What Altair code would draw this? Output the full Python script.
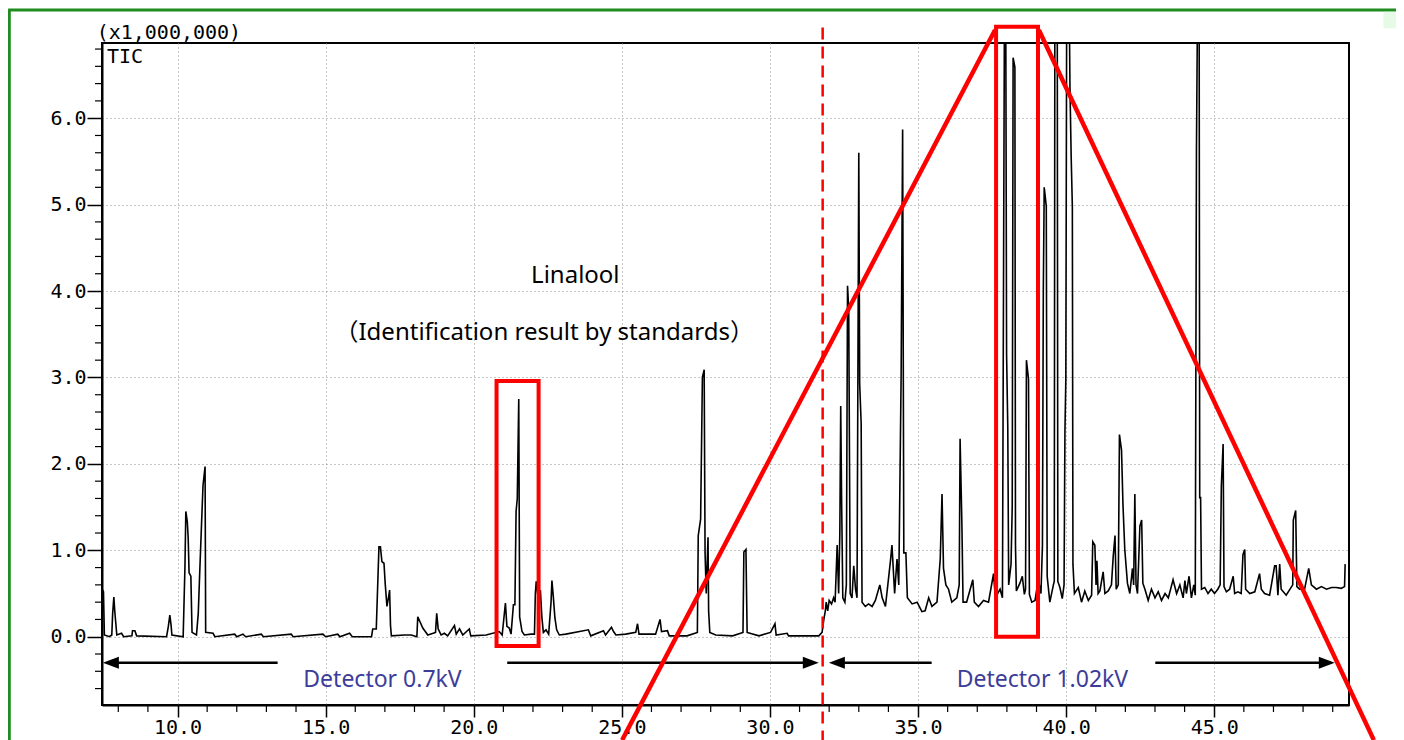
import altair as alt
import pandas as pd

# ---------------- TIC trace (retention time [min], intensity [x1,000,000]) ----------------
rt = [7.45, 7.50, 7.53, 7.70, 7.78, 7.81, 7.85, 7.88, 7.90, 7.95, 8.11, 8.18, 8.46, 8.48, 8.56, 8.62,
      9.63, 9.69, 9.74, 9.78, 9.81, 10.19, 10.25, 10.28, 10.33, 10.36, 10.39, 10.45, 10.49, 10.64,
      10.70, 10.75, 10.81, 10.86, 10.93, 10.95, 11.20, 11.26, 11.93, 12.00, 12.21, 12.30, 12.83, 12.90,
      13.84, 13.90, 14.91, 15.00, 15.41, 15.48, 15.81, 15.90, 16.55, 16.59, 16.71, 16.80, 16.85, 16.90,
      16.97, 17.01, 17.07, 17.12, 17.16, 17.19, 17.22, 17.66, 17.89, 18.08, 18.11, 18.19, 18.28, 18.45,
      18.71, 18.75, 18.80, 18.90, 19.01, 19.12, 19.35, 19.41, 19.52, 19.63, 19.85, 19.90, 20.42, 20.86,
      20.96, 21.07, 21.12, 21.20, 21.26, 21.34, 21.39, 21.43, 21.47, 21.52, 21.55, 21.63, 21.71, 21.93,
      22.05, 22.08, 22.11, 22.19, 22.25, 22.30, 22.35, 22.44, 22.53, 22.61, 22.64, 22.69, 22.74, 22.80,
      22.89, 23.11, 23.87, 23.95, 24.38, 24.45, 24.65, 24.72, 24.80, 25.13, 25.47, 25.53, 25.58, 25.81,
      26.14, 26.29, 26.34, 26.54, 26.60, 27.20, 27.55, 27.58, 27.66, 27.72, 27.78, 27.81, 27.85, 27.91,
      27.93, 27.97, 28.17, 28.74, 29.09, 29.12, 29.19, 29.23, 29.63, 30.02, 30.17, 30.21, 30.58, 30.63,
      31.65, 31.76, 31.82, 31.87, 31.90, 31.95, 32.00, 32.08, 32.15, 32.20, 32.27, 32.32, 32.36, 32.39,
      32.42, 32.46, 32.53, 32.58, 32.62, 32.66, 32.71, 32.77, 32.83, 32.89, 32.94, 33.00, 33.03, 33.08,
      33.11, 33.22, 33.33, 33.45, 33.56, 33.71, 33.79, 33.90, 34.07, 34.12, 34.21, 34.29, 34.35, 34.43,
      34.48, 34.52, 34.59, 34.64, 34.80, 34.97, 35.13, 35.24, 35.36, 35.47, 35.64, 35.75, 35.81, 35.86,
      35.94, 36.03, 36.14, 36.31, 36.39, 36.42, 36.48, 36.52, 36.64, 36.85, 36.90, 37.04, 37.21, 37.38,
      37.55, 37.61, 37.77, 37.85, 37.92, 37.96, 37.99, 38.03, 38.06, 38.14, 38.18, 38.21, 38.27, 38.29,
      38.32, 38.44, 38.52, 38.59, 38.63, 38.66, 38.73, 38.76, 38.84, 38.95, 39.06, 39.15, 39.20, 39.23,
      39.26, 39.33, 39.36, 39.45, 39.57, 39.60, 39.62, 39.70, 39.72, 39.79, 39.87, 39.93, 39.96, 39.99,
      40.02, 40.10, 40.13, 40.17, 40.21, 40.23, 40.28, 40.41, 40.52, 40.63, 40.75, 40.86, 40.90, 40.97,
      41.01, 41.04, 41.08, 41.14, 41.25, 41.31, 41.42, 41.53, 41.59, 41.65, 41.69, 41.76, 41.80, 41.87,
      41.92, 41.98, 42.07, 42.15, 42.24, 42.28, 42.32, 42.36, 42.41, 42.49, 42.55, 42.59, 42.66, 42.77,
      42.88, 43.00, 43.11, 43.22, 43.34, 43.45, 43.61, 43.73, 43.84, 43.95, 44.01, 44.06, 44.15, 44.23,
      44.31, 44.36, 44.40, 44.44, 44.49, 44.51, 44.54, 44.57, 44.68, 44.79, 44.90, 45.01, 45.12, 45.20,
      45.24, 45.30, 45.33, 45.41, 45.52, 45.64, 45.69, 45.80, 45.91, 45.97, 46.03, 46.06, 46.20, 46.37,
      46.53, 46.59, 46.70, 46.87, 47.04, 47.09, 47.15, 47.21, 47.26, 47.43, 47.65, 47.67, 47.75, 47.79,
      47.88, 48.05, 48.19, 48.28, 48.45, 48.62, 48.79, 48.96, 49.12, 49.29, 49.40, 49.42]
tic = [0.55, 0.52, 0.02, 0.00, 0.02, 0.27, 0.46, 0.30, 0.22, 0.02, 0.04, 0.00, 0.01, 0.07, 0.07, 0.01,
       0.00, 0.12, 0.25, 0.14, 0.02, 0.00, 0.80, 1.45, 1.33, 1.14, 0.74, 0.70, 0.05, 0.02,
       0.27, 0.75, 1.30, 1.75, 1.97, 0.05, 0.04, 0.00, 0.03, 0.00, 0.03, 0.00, 0.03, 0.00,
       0.03, 0.00, 0.03, 0.00, 0.03, 0.00, 0.04, 0.00, 0.00, 0.09, 0.09, 1.04, 1.04, 0.87,
       0.85, 0.62, 0.35, 0.45, 0.54, 0.13, 0.01, 0.02, 0.02, 0.00, 0.23, 0.17, 0.10, 0.02,
       0.05, 0.27, 0.09, 0.02, 0.04, 0.01, 0.13, 0.03, 0.09, 0.02, 0.09, 0.01, 0.02, 0.06,
       0.02, 0.39, 0.12, 0.10, 0.03, 0.37, 0.37, 1.45, 1.60, 2.75, 0.23, 0.06, 0.02, 0.03,
       0.03, 0.50, 0.64, 0.40, 0.54, 0.23, 0.05, 0.08, 0.03, 0.40, 0.65, 0.45, 0.22, 0.08,
       0.02, 0.03, 0.08, 0.01, 0.07, 0.02, 0.11, 0.06, 0.02, 0.03, 0.05, 0.15, 0.03, 0.03,
       0.03, 0.20, 0.06, 0.07, 0.01, 0.01, 0.05, 1.17, 1.36, 3.00, 3.09, 0.97, 0.50, 1.15,
       0.30, 0.05, 0.02, 0.01, 0.05, 0.98, 1.01, 0.05, 0.01, 0.05, 0.15, 0.02, 0.04, 0.01,
       0.01, 0.05, 0.20, 0.30, 0.40, 0.30, 0.42, 0.38, 0.45, 0.40, 1.06, 0.50, 1.20, 2.67,
       1.59, 0.45, 0.40, 0.60, 4.06, 3.79, 0.50, 0.45, 0.82, 0.55, 0.45, 5.60, 2.93, 2.47,
       0.40, 0.35, 0.38, 0.35, 0.42, 0.60, 0.45, 0.35, 0.88, 1.06, 0.50, 0.90, 0.60, 3.04,
       5.87, 0.97, 0.97, 0.45, 0.38, 0.40, 0.29, 0.30, 0.45, 0.35, 0.40, 0.90, 1.65, 0.79,
       0.60, 0.55, 0.40, 0.45, 0.60, 2.29, 1.32, 0.40, 0.40, 0.66, 0.40, 0.35, 0.42, 0.40,
       0.73, 0.45, 0.55, 0.45, 7.50, 7.50, 3.26, 2.43, 0.60, 0.84, 1.50, 6.70, 6.59, 1.06,
       0.53, 0.62, 0.70, 0.49, 0.55, 3.20, 2.98, 0.49, 0.40, 0.42, 0.66, 0.50, 1.06, 4.00,
       5.20, 4.98, 0.70, 0.40, 0.60, 0.64, 7.50, 7.50, 0.64, 0.57, 0.44, 0.60, 2.38, 2.98,
       7.50, 7.50, 6.35, 5.56, 4.98, 0.84, 0.50, 0.57, 0.40, 0.53, 0.42, 0.48, 1.10, 1.06,
       0.60, 0.88, 0.50, 0.53, 0.75, 0.50, 0.53, 0.60, 0.93, 1.17, 0.55, 0.60, 2.34, 2.16,
       1.52, 1.01, 0.62, 0.50, 0.79, 0.60, 1.65, 0.60, 0.50, 1.28, 1.35, 0.62, 0.55, 0.42,
       0.55, 0.45, 0.52, 0.42, 0.50, 0.45, 0.66, 0.50, 0.60, 0.45, 0.65, 0.50, 0.70, 0.45,
       0.60, 0.48, 5.65, 7.50, 7.50, 1.61, 1.61, 0.55, 0.57, 0.50, 0.55, 0.50, 0.55, 0.60,
       1.74, 2.23, 0.58, 0.52, 0.55, 0.70, 0.50, 0.52, 0.50, 0.95, 1.01, 0.55, 0.50, 0.52,
       0.73, 0.55, 0.50, 0.48, 0.82, 0.82, 0.48, 0.84, 0.55, 0.48, 0.60, 1.35, 1.46, 0.58,
       0.55, 0.55, 0.79, 0.60, 0.55, 0.58, 0.55, 0.57, 0.57, 0.56, 0.58, 0.84]

# ---------------- axes ----------------
x_domain = [7.45, 49.55]
y_domain = [-0.79, 6.87]
x_major = [10, 15, 20, 25, 30, 35, 40, 45]
x_minor = [v for v in range(8, 50) if v % 5 != 0]
y_major = [0, 1, 2, 3, 4, 5, 6]
y_minor = [k / 5 for k in range(-3, 35) if k % 5 != 0]

# ---------------- annotations (data units) ----------------
box_x1 = [20.77, 37.635]
box_x2 = [22.19, 39.05]
box_y1 = [2.96, 7.057]
box_y2 = [-0.108, 0.0]

zoom_x1 = [37.60, 39.08]
zoom_y1 = [7.02, 7.02]
zoom_x2 = [25.01, 50.39]
zoom_y2 = [-1.196, -1.196]

split_rt = 31.78
split_top, split_bottom = 7.05, -1.196

arrow_y = -0.30
arrow_x1 = [7.75, 21.13, 32.26, 43.01]
arrow_x2 = [13.38, 31.38, 35.46, 48.80]
head_left_x = [7.75, 32.26]
head_right_x = [31.38, 48.80]

det_labels = ["Detector 0.7kV", "Detector 1.02kV"]
det_x = [16.92, 39.20]
det_y = [-0.50, -0.50]

note_labels = ["Linalool", "（Identification result by standards）"]
note_x = [23.43, 22.38]
note_y = [4.17, 3.51]

mono = "DejaVu Sans Mono"
sans = "Noto Sans, Noto Sans CJK JP"

xs = alt.Scale(domain=x_domain, nice=False, zero=False)
ys = alt.Scale(domain=y_domain, nice=False, zero=False)

x_axis = alt.Axis(values=x_major, format=".1f", title=None, grid=True, gridDash=[1, 3],
                  gridColor="#8c8c8c", gridWidth=1, tickSize=12, tickWidth=1.5, tickColor="black",
                  domainColor="black", domainWidth=2, labelFont=mono, labelFontSize=20,
                  labelColor="black", labelPadding=0, labelFlush=False, labelOverlap=False)
y_axis = alt.Axis(values=y_major, format=".1f", title=None, grid=True, gridDash=[1, 3],
                  gridColor="#8c8c8c", gridWidth=1, tickSize=15, tickWidth=1.5, tickColor="black",
                  domainColor="black", domainWidth=2, labelFont=mono, labelFontSize=20,
                  labelColor="black", labelPadding=1, labelFlush=False, labelOverlap=False)


def X(field):
    return alt.X(field, scale=xs, axis=x_axis)


def Y(field):
    return alt.Y(field, scale=ys, axis=y_axis)


trace = alt.Chart(pd.DataFrame({"rt": rt, "tic": tic})).mark_line(
    color="black", strokeWidth=1.6, clip=True
).encode(x=X("rt:Q"), y=Y("tic:Q"))

minor_x = alt.Chart(pd.DataFrame({"v": x_minor})).mark_rule(color="black", strokeWidth=1.2).encode(
    x=X("v:Q"), y=alt.value(662), y2=alt.value(669)
)
minor_y = alt.Chart(pd.DataFrame({"w": y_minor})).mark_rule(color="black", strokeWidth=1.2).encode(
    y=Y("w:Q"), x=alt.value(-7), x2=alt.value(0)
)

boxes = alt.Chart(pd.DataFrame({"bx": box_x1, "bx2": box_x2, "by": box_y1, "by2": box_y2})).mark_rect(
    fill="transparent", stroke="#ff0000", strokeWidth=4, clip=False
).encode(x=X("bx:Q"), x2="bx2:Q", y=Y("by:Q"), y2="by2:Q")

zoom_lines = alt.Chart(pd.DataFrame({"zx": zoom_x1, "zy": zoom_y1, "zx2": zoom_x2, "zy2": zoom_y2})).mark_rule(
    color="#ff0000", strokeWidth=4.5, clip=False
).encode(x=X("zx:Q"), x2="zx2:Q", y=Y("zy:Q"), y2="zy2:Q")

split = alt.Chart(pd.DataFrame({"sx": [split_rt], "sy": [split_top], "sy2": [split_bottom]})).mark_rule(
    color="#ff0000", strokeWidth=2.5, strokeDash=[12, 7], clip=False
).encode(x=X("sx:Q"), y=Y("sy:Q"), y2="sy2:Q")

arrows = alt.Chart(pd.DataFrame({"ax": arrow_x1, "ax2": arrow_x2, "ay": [arrow_y] * 4})).mark_rule(
    color="black", strokeWidth=2.5, clip=False
).encode(x=X("ax:Q"), x2="ax2:Q", y=Y("ay:Q"))
heads_l = alt.Chart(pd.DataFrame({"ax": head_left_x, "ay": [arrow_y] * 2})).mark_point(
    shape="M-1,0L1,-0.75L1,0.75Z", size=256, filled=True, color="black", opacity=1, clip=False
).encode(x=X("ax:Q"), y=Y("ay:Q"))
heads_r = alt.Chart(pd.DataFrame({"ax": head_right_x, "ay": [arrow_y] * 2})).mark_point(
    shape="M1,0L-1,-0.75L-1,0.75Z", size=256, filled=True, color="black", opacity=1, clip=False
).encode(x=X("ax:Q"), y=Y("ay:Q"))

det_text = alt.Chart(pd.DataFrame({"t": det_labels, "tx": det_x, "ty": det_y})).mark_text(
    font=sans, fontSize=23, color="#3d3d99", align="center", baseline="middle", clip=False
).encode(x=X("tx:Q"), y=Y("ty:Q"), text="t:N")

note_text = alt.Chart(pd.DataFrame({"t": note_labels, "tx": note_x, "ty": note_y})).mark_text(
    font=sans, fontSize=24, color="black", align="center", baseline="middle", clip=False
).encode(x=X("tx:Q"), y=Y("ty:Q"), text="t:N")

scale_text = alt.Chart(pd.DataFrame({"t": ["(x1,000,000)", "TIC"], "tx": [7.27, 7.62], "ty": [6.99, 6.71]})).mark_text(
    font=mono, fontSize=20, color="black", align="left", baseline="middle", clip=False
).encode(x=X("tx:Q"), y=Y("ty:Q"), text="t:N")

# page frame (green) drawn in data units
frame_v = alt.Chart(pd.DataFrame({"fx": [4.32], "fy": [7.253], "fy2": [-1.196]})).mark_rule(
    color="#1e8c1e", strokeWidth=3, clip=False
).encode(x=X("fx:Q"), y=Y("fy:Q"), y2="fy2:Q")
frame_h = alt.Chart(pd.DataFrame({"fx": [4.28], "fx2": [51.33], "fy": [7.253]})).mark_rule(
    color="#1e8c1e", strokeWidth=3, clip=False
).encode(x=X("fx:Q"), x2="fx2:Q", y=Y("fy:Q"))
corner = alt.Chart(pd.DataFrame({"fx": [50.71], "fx2": [51.40], "fy": [7.23], "fy2": [7.04]})).mark_rect(
    color="#e6fbe6", clip=False
).encode(x=X("fx:Q"), x2="fx2:Q", y=Y("fy:Q"), y2="fy2:Q")

chart = alt.layer(
    trace, minor_x, minor_y, arrows, heads_l, heads_r, det_text, note_text, scale_text,
    split, boxes, zoom_lines, frame_v, frame_h, corner
).properties(
    width=1247, height=662,
    padding={"left": 94, "top": 35, "right": 47, "bottom": 35},
    autosize=alt.AutoSizeParams(type="none"),
    background="white",
).configure_view(stroke="black", strokeWidth=2)

chart.save("out.html", embed_options={"renderer": "svg", "actions": False})
